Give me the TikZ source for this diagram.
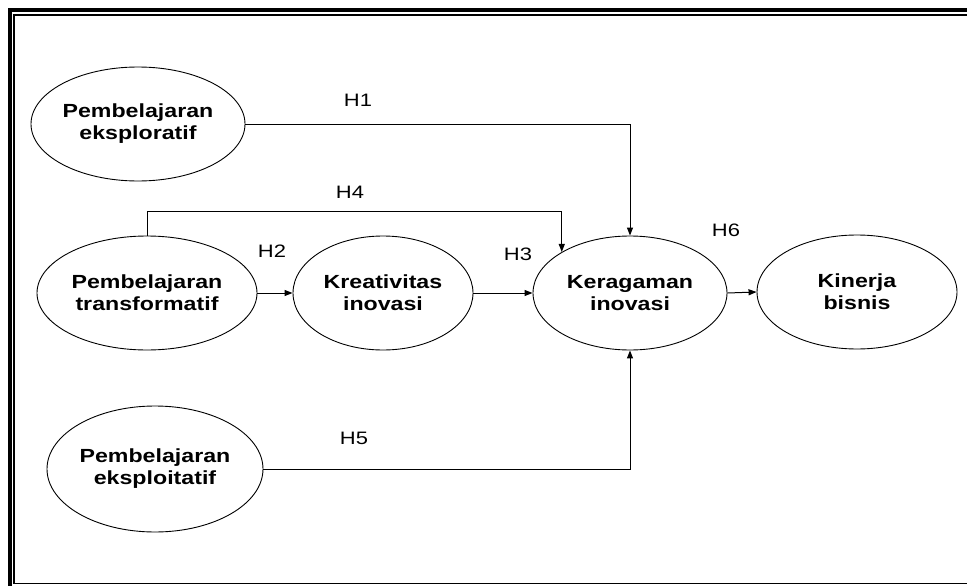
\documentclass[tikz,border=0pt]{standalone}
\usepackage{fontspec}
\setmainfont{Liberation Sans}
\newfontfamily\wide[FakeStretch=1.22]{Liberation Sans}
\usetikzlibrary{shapes.geometric,arrows.meta,calc}
\tikzset{
  var/.style={draw, ellipse, line width=0.9pt, inner sep=0pt, align=center,
    font=\wide\bfseries\fontsize{19pt}{22pt}\selectfont},
  hlab/.style={inner sep=0pt, font=\wide\fontsize{18pt}{20pt}\selectfont},
  arr/.style={line width=1pt, -{Triangle[length=8pt,width=6pt]}},
}
\begin{document}
\begin{tikzpicture}[x=1pt,y=-1pt]
\useasboundingbox (0,0) rectangle (967,586);
\clip (0,0) rectangle (967,586);
% frame
\draw[line width=4pt] (10,10) rectangle (1000,620);
\draw[line width=1.7pt] (14,14.8) rectangle (995,583.5);
% nodes
\node[var, minimum width=214pt, minimum height=114pt] (e1) at (138,124) {Pembelajaran\\eksploratif};
\node[var, minimum width=220pt, minimum height=114pt] (e2) at (147,293) {Pembelajaran\\transformatif};
\node[var, minimum width=180pt, minimum height=114pt] (e3) at (383,293) {Kreativitas\\inovasi};
\node[var, minimum width=194pt, minimum height=114pt] (e4) at (630,293) {Keragaman\\inovasi};
\node[var, minimum width=200pt, minimum height=114pt] (e5) at (857,292) {Kinerja\\bisnis};
\node[var, minimum width=216pt, minimum height=126pt] (e6) at (155,469) {Pembelajaran\\eksploitatif};
% labels
\node[hlab] (h1) at (358,100) {H1};
\node[hlab] (h4) at (350,192) {H4};
\node[hlab] (h2) at (272,251) {H2};
\node[hlab] (h3) at (518,254) {H3};
\node[hlab] (h6) at (726,230) {H6};
\node[hlab] (h5) at (354,438) {H5};
% connectors
\coordinate (h4y) at (0,211);
\coordinate (h4t) at (e4.149.1);
\draw[arr] (e1.east) -| (e4.north);
\draw[arr] (e2.north) |- (h4t |- h4y) -- (h4t);
\draw[arr] (e2.east) -- (e3.west);
\draw[arr] (e3.east) -- (e4.west);
\draw[arr] (e4.east) -- (e5.west);
\draw[arr] (e6.east) -| (e4.south);
\end{tikzpicture}
\end{document}
